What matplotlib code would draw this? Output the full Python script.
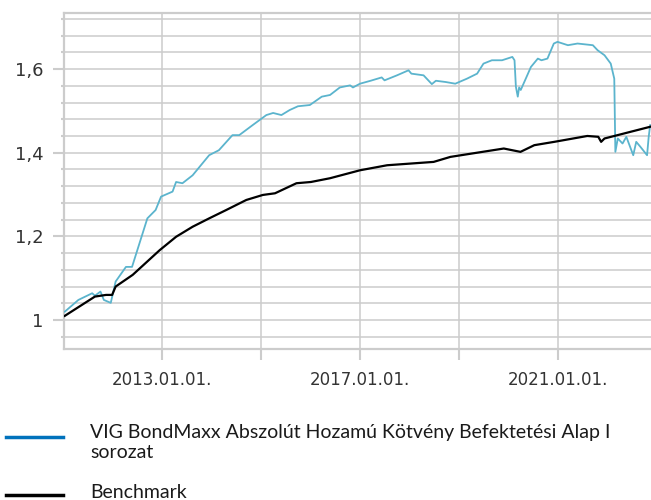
import matplotlib
matplotlib.use("Agg")
import matplotlib.pyplot as plt
import pandas as pd
import numpy as np
from matplotlib.lines import Line2D

fund_dates = [
    "2011-01-15", "2011-04-25", "2011-08-05", "2011-08-25", "2011-10-05", "2011-10-30",
    "2011-12-20", "2012-01-25", "2012-04-10", "2012-05-25", "2012-09-15", "2012-11-15",
    "2012-12-25", "2013-03-20", "2013-04-15", "2013-06-01", "2013-08-15", "2013-12-15",
    "2014-02-25", "2014-06-05", "2014-07-25", "2014-11-01", "2015-02-10", "2015-04-01",
    "2015-06-01", "2015-08-01", "2015-10-01", "2015-12-28", "2016-03-25", "2016-05-25",
    "2016-08-05", "2016-10-20", "2016-11-10", "2017-01-01", "2017-03-20", "2017-06-10",
    "2017-07-01", "2017-10-01", "2017-12-25", "2018-01-15", "2018-04-15", "2018-06-15",
    "2018-07-15", "2018-09-25", "2018-12-05", "2019-03-01", "2019-05-15", "2019-07-01",
    "2019-09-01", "2019-11-15", "2020-01-30", "2020-02-15", "2020-02-25", "2020-03-10",
    "2020-03-20", "2020-04-01", "2020-05-08", "2020-06-15", "2020-08-05", "2020-09-01",
    "2020-10-15", "2020-12-01", "2020-12-28", "2021-03-15", "2021-05-25", "2021-09-15",
    "2021-10-20", "2021-12-10", "2022-01-25", "2022-02-20", "2022-02-28", "2022-03-18",
    "2022-04-22", "2022-05-20", "2022-07-10", "2022-08-01", "2022-09-01", "2022-10-20",
    "2022-11-01", "2022-11-12",
]
fund_values = [
    1.020, 1.048, 1.064, 1.058, 1.068, 1.048,
    1.041, 1.092, 1.127, 1.127, 1.243, 1.263,
    1.295, 1.307, 1.330, 1.327, 1.346, 1.394,
    1.406, 1.442, 1.442, 1.466, 1.490, 1.495,
    1.490, 1.502, 1.511, 1.514, 1.534, 1.538,
    1.556, 1.561, 1.556, 1.565, 1.572, 1.580,
    1.573, 1.585, 1.597, 1.589, 1.585, 1.564,
    1.572, 1.569, 1.565, 1.577, 1.589, 1.613,
    1.621, 1.621, 1.629, 1.621, 1.558, 1.534,
    1.556, 1.550, 1.577, 1.605, 1.625, 1.621,
    1.625, 1.661, 1.665, 1.657, 1.661, 1.657,
    1.645, 1.633, 1.613, 1.577, 1.402, 1.434,
    1.422, 1.438, 1.394, 1.426, 1.414, 1.394,
    1.438, 1.466,
]

bench_dates = [
    "2011-01-15", "2011-08-25", "2011-11-15", "2011-12-30", "2012-01-25", "2012-05-30",
    "2012-12-15", "2013-04-15", "2013-08-15", "2013-12-15", "2014-04-20", "2014-09-15",
    "2015-01-15", "2015-04-15", "2015-09-20", "2016-01-05", "2016-05-25", "2017-01-01",
    "2017-07-20", "2018-06-28", "2018-10-30", "2019-11-28", "2020-03-30", "2020-07-10",
    "2020-12-05", "2021-08-05", "2021-10-25", "2021-11-15", "2021-12-10", "2022-11-12",
]
bench_values = [
    1.010, 1.056, 1.060, 1.060, 1.080, 1.108,
    1.167, 1.199, 1.223, 1.243, 1.263, 1.287,
    1.299, 1.303, 1.327, 1.330, 1.339, 1.358,
    1.370, 1.378, 1.390, 1.410, 1.402, 1.418,
    1.426, 1.440, 1.438, 1.426, 1.434, 1.462,
]

fund_label = "VIG BondMaxx Abszolút Hozamú Kötvény Befektetési Alap I\nsorozat"
bench_label = "Benchmark"

x_ticks = ["2013-01-01", "2015-01-01", "2017-01-01", "2019-01-01", "2021-01-01"]
x_tick_labels = ["2013.01.01.", "", "2017.01.01.", "", "2021.01.01."]
y_ticks = [1.0, 1.2, 1.4, 1.6]
y_tick_labels = ["1", "1,2", "1,4", "1,6"]

grid_c = "#cccccc"
text_c = "#333333"

fig = plt.figure(figsize=(6.51, 5), dpi=100)
ax = fig.add_axes([64 / 651, 1 - 349 / 500, 1 - 64 / 651, 336 / 500])

ax.plot(pd.to_datetime(fund_dates), fund_values, color="#5bb4cd", lw=1.3, zorder=3)
ax.plot(pd.to_datetime(bench_dates), bench_values, color="black", lw=1.6, zorder=4)

ax.set_xlim(pd.Timestamp("2011-01-09"), pd.Timestamp("2022-11-18"))
ax.set_ylim(0.9307, 1.734)

ax.set_xticks(pd.to_datetime(x_ticks))
ax.set_xticklabels(x_tick_labels)
ax.set_yticks(y_ticks)
ax.set_yticklabels(y_tick_labels)
ax.set_yticks(np.arange(0.96, 1.73, 0.04), minor=True)

ax.tick_params(axis="x", length=8, width=1.5, color=grid_c, pad=8,
               labelsize=12, labelcolor=text_c)
ax.tick_params(axis="y", which="major", length=8, width=1.5, color=grid_c, pad=7,
               labelsize=13, labelcolor=text_c)
ax.tick_params(axis="y", which="minor", length=2.5, width=1.5, color=grid_c)

ax.grid(True, which="both", color=grid_c, lw=1.1, zorder=0)
ax.set_axisbelow(True)
for side in ["left", "bottom", "top"]:
    ax.spines[side].set_color(grid_c)
    ax.spines[side].set_linewidth(1.6)
ax.spines["right"].set_visible(False)

# legend below the plot
fig.add_artist(Line2D([6 / 651, 63 / 651], [1 - 437 / 500] * 2, color="#0072bc",
                      lw=2.5, transform=fig.transFigure))
fig.add_artist(Line2D([6 / 651, 63 / 651], [1 - 495 / 500] * 2, color="black",
                      lw=2.5, transform=fig.transFigure))
fig.text(90 / 651, 1 - 458 / 500, fund_label, family="Lato", fontsize=14,
         color="#1a1a1a", va="baseline", linespacing=1.2)
fig.text(90 / 651, 1 - 498 / 500, bench_label, family="Lato", fontsize=14,
         color="#1a1a1a", va="baseline")

fig.savefig("out.png", dpi=100)
